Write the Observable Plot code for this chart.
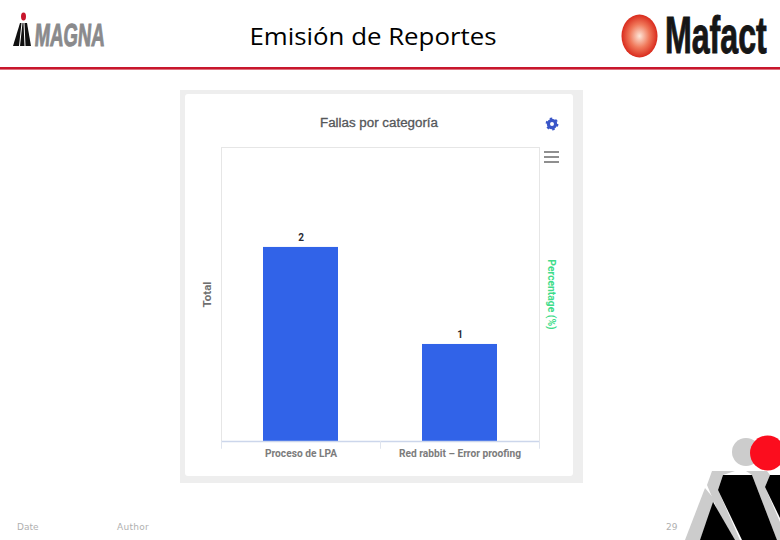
<!DOCTYPE html>
<html><head><meta charset="utf-8">
<script src="https://cdn.jsdelivr.net/npm/d3@7"></script>
<script src="https://cdn.jsdelivr.net/npm/@observablehq/plot@0.6"></script>
<style>
html,body{margin:0;padding:0;background:#fff;overflow:hidden}
#page{position:relative;width:780px;height:540px;overflow:hidden}
#page svg.deco{position:absolute;left:0;top:0}
#chart{position:absolute;left:0;top:0}
#chart svg{background:transparent;display:block}
</style></head><body>
<div id="page">
<svg class="deco" width="780" height="540" viewBox="0 0 780 540">
  <defs>
    <radialGradient id="ball" cx="50%" cy="50%" r="50%">
      <stop offset="0" stop-color="#fde6d8"/><stop offset=".55" stop-color="#f0785a"/><stop offset="1" stop-color="#d92a1c"/>
    </radialGradient>
  </defs>
  <!-- header -->
  <rect x="0" y="67" width="780" height="2.6" fill="#c8162c"/>
  <text x="373" y="45" text-anchor="middle" font-family="Open Sans" font-weight="500" font-size="23" fill="#000" textLength="247" lengthAdjust="spacingAndGlyphs">Emisión de Reportes</text>
  <ellipse cx="23.5" cy="16.5" rx="2.5" ry="4" fill="#c8162c"/>
  <polygon points="13,46 20,23 27,23 31,46" fill="#111"/>
  <path d="M19.5 46 L22 23 M25 46 L24 23" stroke="#fff" stroke-width="1"/>
  <text transform="translate(34,46) scale(.58,1) skewX(-8)" font-family="Liberation Sans" font-weight="700" font-size="32" fill="#8a8a8c" stroke="#8a8a8c" stroke-width="1">MAGNA</text>
  <ellipse cx="639.5" cy="36" rx="18" ry="21.5" fill="url(#ball)"/>
  <text transform="translate(665,53) scale(.63,1)" font-family="Liberation Sans" font-weight="700" font-size="51" fill="#161616" stroke="#161616" stroke-width="1">Mafact</text>
  <!-- panel -->
  <rect x="180" y="90" width="403" height="393" fill="#eeeeee"/>
  <rect x="185" y="94" width="388" height="382" rx="3" fill="#ffffff"/>
  <text x="379" y="127" text-anchor="middle" font-family="Liberation Sans" font-weight="400" font-size="12" fill="#55575a" stroke="#55575a" stroke-width=".3" textLength="118" lengthAdjust="spacingAndGlyphs">Fallas por categoría</text>
  <!-- gear -->
  <circle cx="552" cy="124" r="3.6" fill="none" stroke="#3a56c8" stroke-width="3.2"/>
  <circle cx="552" cy="124" r="5.4" fill="none" stroke="#3a56c8" stroke-width="2" stroke-dasharray="2.4 3.25"/>
  <!-- menu -->
  <path d="M544 152H559M544 157H559M544 162H559" stroke="#8f8f8f" stroke-width="2.2"/>
  <!-- footer -->
  <g font-family="DejaVu Sans" font-size="9" fill="#b0b0b0">
    <text x="17" y="530">Date</text>
    <text x="117" y="530" letter-spacing=".3">Author</text>
    <text x="666" y="530">29</text>
  </g>
  <!-- corner logo -->
  <circle cx="746" cy="452" r="14" fill="#cccccc"/>
  <circle cx="767.5" cy="453" r="17.5" fill="#fb0d1e"/>
  <g fill="#cccccc">
    <polygon points="705,488 715,500 700,540 685,540"/>
    <polygon points="712,471 735,471 723,475 718,490 740,540 730,540 707,485"/>
    <polygon points="746,471 767,471 770,475 765,487 780,522 780,540 777,540 752,475"/>
  </g>
  <g fill="#000">
    <polygon points="713,502 735,540 700,540"/>
    <polygon points="723,475 752,475 777,540 742,540 718,490"/>
    <polygon points="765,487 770,475 780,475 780,518"/>
  </g>
</svg>
<div id="chart"></div>
</div>
<script>
const categories = ["Proceso de LPA", "Red rabbit – Error proofing"];
const totals = [2, 1];
const yMax = 3.03;
const leftAxisTitle = "Total";
const rightAxisTitle = "Percentage (%)";
const rows = categories.map((category, i) => ({category, total: totals[i]}));

const plot = Plot.plot({
  width: 780, height: 540,
  marginLeft: 221, marginRight: 241, marginTop: 147, marginBottom: 99,
  style: {background: "transparent", overflow: "visible"},
  x: {domain: categories, padding: 0, label: null},
  y: {domain: [0, yMax], axis: null},
  marks: [
    Plot.frame({stroke: "#e6e6e6", strokeOpacity: 1}),
    Plot.barY(rows, {x: "category", y: "total", fill: "#3163e8", insetLeft: 42, insetRight: 42}),
    Plot.ruleY([0], {stroke: "#ccd6eb", strokeWidth: 1.5}),
    Plot.ruleX(categories, {x: d => d, y1: 0, y2: -0.08, dx: -79.5, stroke: "#dfe4ee"}),
    Plot.ruleX([categories[1]], {x: d => d, y1: 0, y2: -0.08, dx: 79.5, stroke: "#dfe4ee"}),
    Plot.text(rows, {x: "category", y: "total", text: d => String(d.total), dy: -10, fontFamily: "Roboto", fontWeight: 700, fontSize: 10, fill: "#2a2a33"}),
    Plot.axisX({anchor: "bottom", tickSize: 0, tickPadding: 8, label: null, fontFamily: "Roboto", fontWeight: 700, fontSize: 10.2, color: "#7c7c7c"}),
    Plot.text([leftAxisTitle], {frameAnchor: "left", textAnchor: "middle", dx: -14, rotate: -90, fontFamily: "Roboto", fontWeight: 700, fontSize: 11.5, fill: "#6f6f6f"}),
    Plot.text([rightAxisTitle], {frameAnchor: "right", textAnchor: "middle", dx: 12, rotate: 90, fontFamily: "Roboto", fontWeight: 700, fontSize: 10.3, fill: "#3fdc8a"})
  ]
});
document.getElementById("chart").appendChild(plot);
</script>
</body></html>
